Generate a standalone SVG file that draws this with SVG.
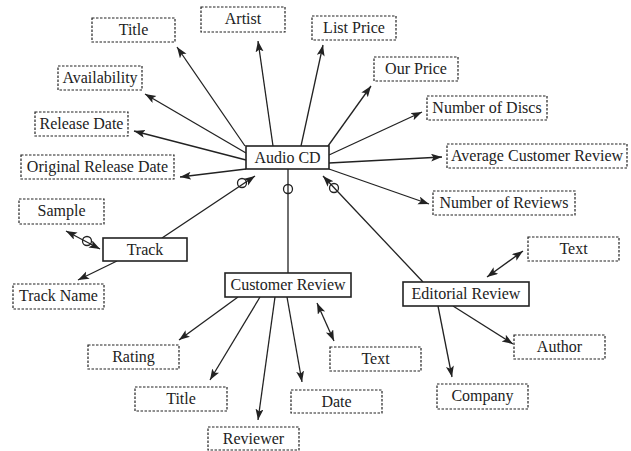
<svg xmlns="http://www.w3.org/2000/svg" width="631" height="451" viewBox="0 0 631 451">
  <style>
    .ent { fill: #fff; stroke: #222; stroke-width: 1.6; }
    .att { fill: #fff; stroke: #222; stroke-width: 1.2; stroke-dasharray: 2.5 1.5; }
    .lbl { font-family: 'Liberation Serif', 'Times New Roman', Times, serif; font-size: 16px; fill: #222; text-anchor: middle; }
    .ln { stroke: #222; stroke-width: 1.3; fill: none; }
    .opt { stroke: #222; stroke-width: 1.3; fill: none; }
  </style>
  <defs>
    <marker id="arr" markerUnits="userSpaceOnUse" markerWidth="12" markerHeight="10" refX="11" refY="4" orient="auto">
      <path d="M0,0 L11,4 L0,8 L2.5,4 Z" fill="#222"/>
    </marker>
    <marker id="arrS" markerUnits="userSpaceOnUse" markerWidth="12" markerHeight="10" refX="11" refY="4" orient="auto-start-reverse">
      <path d="M0,0 L11,4 L0,8 L2.5,4 Z" fill="#222"/>
    </marker>
  </defs>

  <g id="connectors">
    <!-- Audio CD attributes -->
    <line class="ln" x1="245" y1="146" x2="177" y2="47" marker-end="url(#arr)"/>
    <line class="ln" x1="246" y1="153" x2="145" y2="94" marker-end="url(#arr)"/>
    <line class="ln" x1="246" y1="160" x2="134" y2="131" marker-end="url(#arr)"/>
    <line class="ln" x1="246" y1="169" x2="180" y2="177" marker-end="url(#arr)"/>
    <line class="ln" x1="273" y1="146" x2="258" y2="41" marker-end="url(#arr)"/>
    <line class="ln" x1="301" y1="146" x2="323" y2="45" marker-end="url(#arr)"/>
    <line class="ln" x1="328" y1="146" x2="371" y2="86" marker-end="url(#arr)"/>
    <line class="ln" x1="329" y1="155" x2="422" y2="112" marker-end="url(#arr)"/>
    <line class="ln" x1="329" y1="163" x2="442" y2="157" marker-end="url(#arr)"/>
    <line class="ln" x1="329" y1="169" x2="429" y2="204" marker-end="url(#arr)"/>

    <!-- parts of Audio CD -->
    <line class="ln" x1="162" y1="238" x2="255" y2="176" marker-end="url(#arr)"/>
    <circle class="opt" cx="242" cy="183" r="4.5"/>
    <line class="ln" x1="288" y1="169" x2="288" y2="273"/>
    <circle class="opt" cx="288" cy="189" r="4.5"/>
    <line class="ln" x1="423" y1="282" x2="323" y2="176" marker-end="url(#arr)"/>
    <circle class="opt" cx="334" cy="188" r="4.5"/>

    <!-- Track -->
    <line class="ln" x1="66" y1="231" x2="100" y2="249" marker-start="url(#arrS)" marker-end="url(#arr)"/>
    <circle class="opt" cx="87" cy="241" r="4.5"/>
    <line class="ln" x1="117" y1="261" x2="78" y2="280" marker-end="url(#arr)"/>

    <!-- Customer Review -->
    <line class="ln" x1="238" y1="297" x2="179" y2="340" marker-end="url(#arr)"/>
    <line class="ln" x1="260" y1="297" x2="210" y2="380" marker-end="url(#arr)"/>
    <line class="ln" x1="275" y1="297" x2="258" y2="420" marker-end="url(#arr)"/>
    <line class="ln" x1="287" y1="297" x2="302" y2="382" marker-end="url(#arr)"/>
    <line class="ln" x1="317" y1="303" x2="334" y2="341" marker-start="url(#arrS)" marker-end="url(#arr)"/>

    <!-- Editorial Review -->
    <line class="ln" x1="487" y1="277" x2="523" y2="251" marker-start="url(#arrS)" marker-end="url(#arr)"/>
    <line class="ln" x1="453" y1="306" x2="513" y2="344" marker-end="url(#arr)"/>
    <line class="ln" x1="438" y1="306" x2="452" y2="377" marker-end="url(#arr)"/>
  </g>

  <g font-family="Liberation Serif, serif" font-size="16">
  <!-- entities -->
  <g id="audio-cd"><rect class="ent" x="246" y="146" width="83" height="23"/><text class="lbl" x="287.5" y="163">Audio CD</text></g>
  <g id="track"><rect class="ent" x="103" y="238" width="84" height="23"/><text class="lbl" x="145" y="255">Track</text></g>
  <g id="customer-review"><rect class="ent" x="225" y="273" width="126" height="24"/><text class="lbl" x="288" y="290">Customer Review</text></g>
  <g id="editorial-review"><rect class="ent" x="403" y="282" width="126" height="24"/><text class="lbl" x="466" y="299">Editorial Review</text></g>

  <!-- attributes -->
  <g id="cd-title"><rect class="att" x="92" y="18" width="83" height="24"/><text class="lbl" x="133.5" y="35">Title</text></g>
  <g id="cd-artist"><rect class="att" x="201" y="7" width="84" height="25"/><text class="lbl" x="243" y="24">Artist</text></g>
  <g id="cd-list-price"><rect class="att" x="312" y="16" width="84" height="24"/><text class="lbl" x="354" y="33">List Price</text></g>
  <g id="cd-our-price"><rect class="att" x="374" y="57" width="84" height="24"/><text class="lbl" x="416" y="74">Our Price</text></g>
  <g id="cd-discs"><rect class="att" x="427" y="96" width="120" height="24"/><text class="lbl" x="487" y="113">Number of Discs</text></g>
  <g id="cd-avg-review"><rect class="att" x="447" y="144" width="180" height="24"/><text class="lbl" x="537" y="161">Average Customer Review</text></g>
  <g id="cd-num-reviews"><rect class="att" x="433" y="191" width="142" height="24"/><text class="lbl" x="504" y="208">Number of Reviews</text></g>
  <g id="cd-availability"><rect class="att" x="58" y="66" width="84" height="24"/><text class="lbl" x="100" y="83">Availability</text></g>
  <g id="cd-release-date"><rect class="att" x="35" y="112" width="93" height="24"/><text class="lbl" x="81.5" y="129">Release Date</text></g>
  <g id="cd-orig-release"><rect class="att" x="21" y="155" width="153" height="24"/><text class="lbl" x="97.5" y="172">Original Release Date</text></g>

  <g id="track-sample"><rect class="att" x="19" y="199" width="85" height="25"/><text class="lbl" x="61.5" y="216">Sample</text></g>
  <g id="track-name"><rect class="att" x="13" y="284" width="91" height="25"/><text class="lbl" x="58.5" y="301">Track Name</text></g>

  <g id="cr-rating"><rect class="att" x="88" y="345" width="91" height="24"/><text class="lbl" x="133.5" y="362">Rating</text></g>
  <g id="cr-title"><rect class="att" x="135" y="387" width="92" height="24"/><text class="lbl" x="181" y="404">Title</text></g>
  <g id="cr-reviewer"><rect class="att" x="208" y="427" width="91" height="23"/><text class="lbl" x="253.5" y="444">Reviewer</text></g>
  <g id="cr-date"><rect class="att" x="291" y="390" width="91" height="23"/><text class="lbl" x="336.5" y="407">Date</text></g>
  <g id="cr-text"><rect class="att" x="330" y="347" width="91" height="24"/><text class="lbl" x="375.5" y="364">Text</text></g>

  <g id="er-text"><rect class="att" x="528" y="237" width="91" height="24"/><text class="lbl" x="573.5" y="254">Text</text></g>
  <g id="er-author"><rect class="att" x="514" y="335" width="91" height="24"/><text class="lbl" x="559.5" y="352">Author</text></g>
  <g id="er-company"><rect class="att" x="437" y="384" width="91" height="25"/><text class="lbl" x="482.5" y="401">Company</text></g>
  </g>
</svg>
